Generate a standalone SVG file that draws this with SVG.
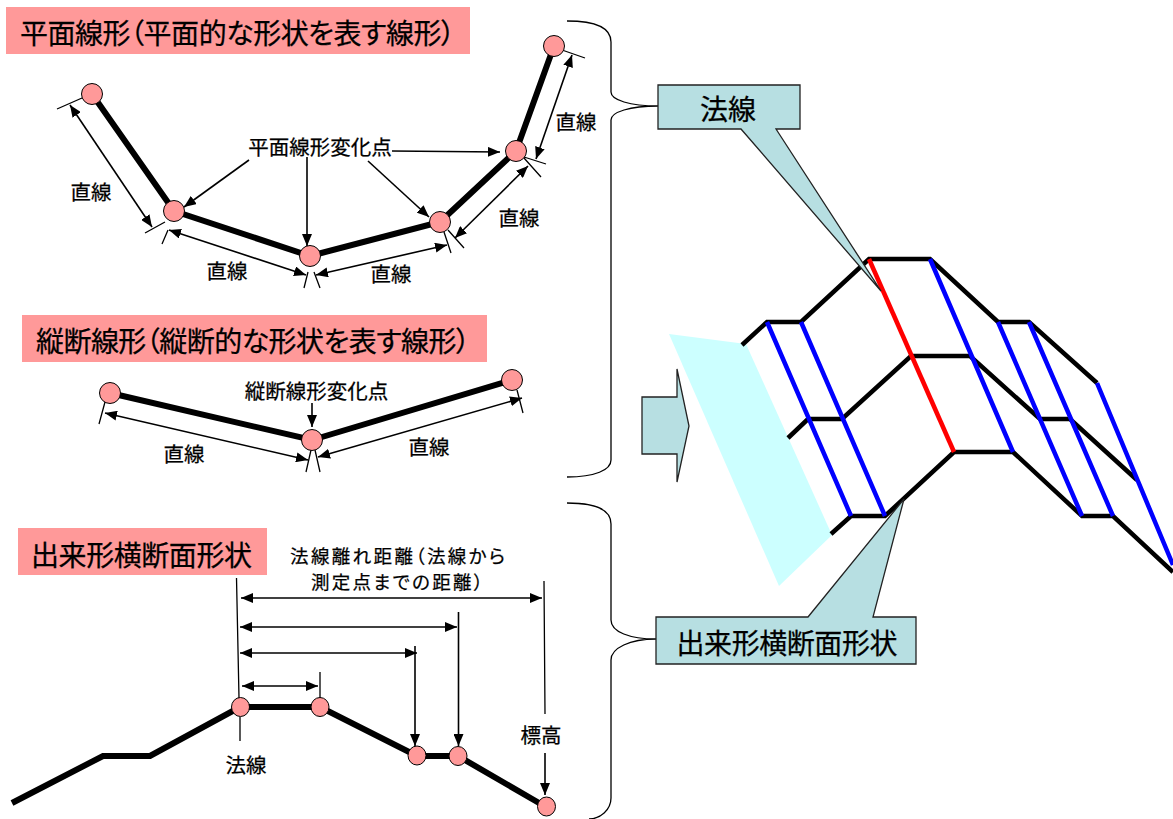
<svg xmlns="http://www.w3.org/2000/svg" width="1173" height="819" viewBox="0 0 1173 819">
<style>
text{font-family:"Noto Sans CJK JP","Noto Sans",sans-serif;fill:#000;stroke:#000;stroke-width:.25;text-anchor:middle}
.t{font-size:28px;text-anchor:start}
.c{font-size:28px}
.l{font-size:20.500px}
.m{font-size:18.500px;text-anchor:start}
.pk{fill:#ff9999}
.n{fill:#ff9999;stroke:#000;stroke-width:1}
.th{fill:none;stroke:#000;stroke-width:6}
.sf{fill:none;stroke:#000;stroke-width:4.500}
.bl{stroke:#0000ff;stroke-width:4.500}
.tk{stroke:#000;stroke-width:1.300;fill:none}
.d{stroke:#000;stroke-width:1.600;fill:none;marker-start:url(#h);marker-end:url(#h)}
.a{stroke:#000;stroke-width:1.600;fill:none;marker-end:url(#h)}
.cb{fill:#b7dfe2;stroke:#222;stroke-width:1.300}
.br{fill:none;stroke:#000;stroke-width:1.300}
</style>
<defs>
<marker id="h" viewBox="0 0 12 10" refX="12" refY="5" markerWidth="12" markerHeight="10" markerUnits="userSpaceOnUse" orient="auto-start-reverse"><path d="M0,0L12,5L0,10Z" fill="#000"/></marker>
</defs>

<g id="brace-top"><path class="br" d="M567,21C595,21 611,28 611,42L611,92C611,100 630,106 658,106C630,106 611,112 611,120L611,460C611,470 595,477 567,477"/></g>
<g id="brace-bottom"><path class="br" d="M567,503C595,503 611,510 611,524L611,620C611,632 630,639 656,639C630,639 611,648 611,660L611,798C611,810 600,819 589,819"/></g>

<g id="title-plan"><rect class="pk" x="6" y="7" width="464" height="47"/><text class="t" x="20" y="44" textLength="435" lengthAdjust="spacing" style="font-feature-settings:'palt'">平面線形（平面的な形状を表す線形）</text></g>
<g id="title-profile"><rect class="pk" x="22" y="315" width="465" height="47"/><text class="t" x="36" y="352" textLength="434" lengthAdjust="spacing" style="font-feature-settings:'palt'">縦断線形（縦断的な形状を表す線形）</text></g>
<g id="title-section"><rect class="pk" x="18" y="528" width="249" height="47"/><text class="t" x="31" y="566" textLength="221" lengthAdjust="spacing">出来形横断面形状</text></g>

<g id="connectors">
<g id="plan-lines">
<path class="th" d="M92,94L174,211L310,256L440,222L516,151L554,46"/>
<path class="tk" d="M57,109L82,98M145,233L165,222M162,244L168,230M304,288L308,272M320,288L314,272M451,253L444,232M464,248L448,230M546,164L524,157M541,177L524,158M585,58L562,50"/>
<path class="d" d="M70,105L152,227"/>
<path class="d" d="M169,230L306,275"/>
<path class="d" d="M316,275L447,245"/>
<path class="d" d="M455,238L528,166"/>
<path class="d" d="M536,159L572,55"/>
<path class="a" d="M249,160L184,207"/>
<path class="a" d="M307,157L307,246"/>
<path class="a" d="M392,151L500,152"/>
<path class="a" d="M368,161L429,217"/>
</g>
<g id="profile-lines">
<path class="th" d="M110,393L312,440L512,380"/>
<path class="tk" d="M99,424L105,402M306,472L311,450M320,472L315,450M523,413L517,390"/>
<path class="d" d="M105,413L308,460"/>
<path class="d" d="M318,457L522,398"/>
<path class="a" d="M312,403L312,427"/>
</g>
<g id="section-lines">
<path class="th" d="M12,803L103,756L150,756L240,707L320,707L417,756L458,756L546,807"/>
<path class="tk" d="M236.500,578L239,698M240,717L240,741M320,672L320,698M544,581L545,714"/>
<path class="d" d="M241,598L542,598"/>
<path class="d" d="M240,627L457,627"/>
<path class="d" d="M240,653L417,653"/>
<path class="d" d="M242,686L318,686"/>
<path class="a" d="M415,646L415,746"/>
<path class="a" d="M458.500,612L458.500,746"/>
<path class="a" d="M545,753L545,795"/>
</g>
</g>

<g id="plan-nodes">
<circle id="p1" class="n" cx="92" cy="94" r="10.500"/>
<circle id="p2" class="n" cx="174" cy="211" r="10.500"/>
<circle id="p3" class="n" cx="310" cy="256" r="10.500"/>
<circle id="p4" class="n" cx="440" cy="222" r="10.500"/>
<circle id="p5" class="n" cx="516" cy="151" r="10.500"/>
<circle id="p6" class="n" cx="554" cy="46" r="10.500"/>
</g>
<g id="profile-nodes">
<circle id="v1" class="n" cx="110" cy="393" r="10.500"/>
<circle id="v2" class="n" cx="312" cy="440" r="10.500"/>
<circle id="v3" class="n" cx="512" cy="380" r="10.500"/>
</g>
<g id="section-nodes">
<ellipse id="s1" class="n" cx="240.500" cy="707" rx="9" ry="9.500"/>
<ellipse id="s2" class="n" cx="320" cy="707" rx="9" ry="9.500"/>
<ellipse id="s3" class="n" cx="417" cy="755.500" rx="9" ry="9.500"/>
<ellipse id="s4" class="n" cx="458" cy="756" rx="9" ry="9.500"/>
<ellipse id="s5" class="n" cx="546.500" cy="806.500" rx="9" ry="9.500"/>
</g>

<g id="labels">
<text class="l" x="320" y="155">平面線形変化点</text>
<text class="l" x="91" y="200">直線</text>
<text class="l" x="227" y="279">直線</text>
<text class="l" x="391" y="282">直線</text>
<text class="l" x="519" y="226">直線</text>
<text class="l" x="576" y="130">直線</text>
<text class="l" x="316.500" y="399">縦断線形変化点</text>
<text class="l" x="184" y="462">直線</text>
<text class="l" x="429" y="455">直線</text>
<text class="m" x="290" y="563" textLength="215" lengthAdjust="spacing" style="font-feature-settings:'palt'">法線離れ距離（法線から</text>
<text class="m" x="311" y="589" textLength="172" lengthAdjust="spacing" style="font-feature-settings:'palt'">測定点までの距離）</text>
<text class="l" x="541" y="743">標高</text>
<text class="l" x="246" y="773">法線</text>
</g>

<g id="surface">
<polygon points="669,334 746,344 832,535 779,586" fill="#ccffff"/>
<path class="sf" d="M742,345L767,322L801,322L869,259L930,259L998,322L1029,322L1097,383"/>
<path class="sf" d="M788,438L808,419L842,419L911,356L970,356L1040,419L1070,419L1137,480"/>
<path class="sf" d="M831,534L851,516L885,516L954,452L1013,452L1082,516L1113,516L1173,572"/>
<path class="bl" d="M767,322L851,516M801,322L885,516M930,259L1013,452M998,322L1082,516M1029,322L1113,516M1097,383L1173,565"/>
<path stroke="#ff0000" stroke-width="4.500" d="M869,259L954,452"/>
</g>

<g id="arrow-block"><polygon class="cb" points="642,397 677,397 677,369 689,426 677,482 677,454 642,454"/></g>

<g id="callout-normal"><path class="cb" d="M658,85L800,85L800,129L776,129L881,291L741,129L658,129Z"/><text class="c" x="728" y="120">法線</text></g>
<g id="callout-section"><path class="cb" d="M656,617L808,617L904,499L873,617L916,617L916,664L656,664Z"/><text class="c" x="787" y="654" textLength="221" lengthAdjust="spacing">出来形横断面形状</text></g>
</svg>
